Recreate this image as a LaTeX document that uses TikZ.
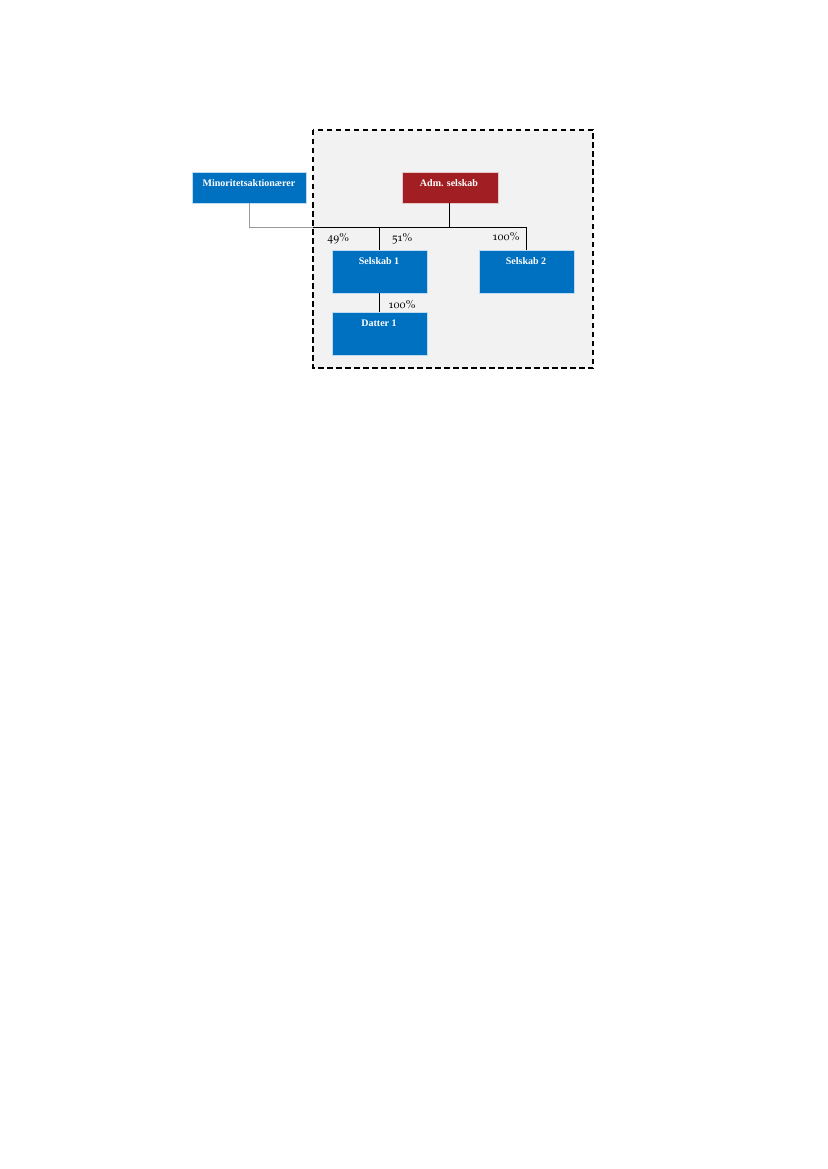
\documentclass[tikz,border=0pt]{standalone}
\usepackage{fontspec}
\setmainfont{Liberation Serif}
\newfontfamily\pctfont[Numbers=OldStyle]{TeX Gyre Pagella}
\definecolor{boxblue}{HTML}{0070C0}
\definecolor{boxred}{HTML}{A11F22}
\definecolor{bggray}{HTML}{F2F2F2}
\begin{document}
\begin{tikzpicture}[x=1pt,y=-1pt,
  entity/.style={fill=boxblue,draw=white!75!boxblue,line width=0.4pt},
  lbl/.style={text=white,font=\fontsize{10}{11}\selectfont\bfseries,inner sep=0pt},
  pct/.style={font=\pctfont\fontsize{11.5}{12}\selectfont,inner sep=0pt},
  link/.style={draw=black,line width=0.8pt},
  glink/.style={draw=gray!80,line width=0.5pt}]
\useasboundingbox (0,0) rectangle (827,1169);
% dashed group
\draw[fill=bggray,line width=1.4pt,dash pattern=on 5.5pt off 3.5pt] (313,130) rectangle (593,368);
% boxes
\path[entity] (192,172) rectangle (306,203);
\coordinate (minS) at (249,203);
\node[lbl] (minT) at (249,183) {Minoritetsaktionærer};
\path[entity,fill=boxred,draw=white!75!boxred] (402,172) rectangle (498,203);
\coordinate (admS) at (449,203);
\node[lbl] (admT) at (449,183) {Adm. selskab};
\path[entity] (332,250) rectangle (427,293);
\coordinate (s1N) at (379,250);
\coordinate (s1S) at (379,293);
\node[lbl] (s1T) at (379,261) {Selskab 1};
\path[entity] (479,250) rectangle (574,293);
\coordinate (s2N) at (526,250);
\node[lbl] (s2T) at (526,261) {Selskab 2};
\path[entity] (332,312) rectangle (427,355);
\coordinate (d1N) at (379,312);
\node[lbl] (d1T) at (379,323) {Datter 1};
% connectors
\coordinate (jL) at (313,227);
\coordinate (j1) at (379,227);
\coordinate (jA) at (449,227);
\coordinate (jR) at (526,227);
\draw[glink] (minS) |- (jL);
\draw[link] (admS) -- (jA);
\draw[link] (jL) -- (jR) -- (s2N);
\draw[link] (j1) -- (s1N);
\draw[link] (s1S) -- (d1N);
% labels
\node[pct] (p49) at (338,239) {49\%};
\node[pct] (p51) at (402,239) {51\%};
\node[pct] (p100a) at (506,237) {100\%};
\node[pct] (p100b) at (402,305) {100\%};
\end{tikzpicture}
\end{document}
